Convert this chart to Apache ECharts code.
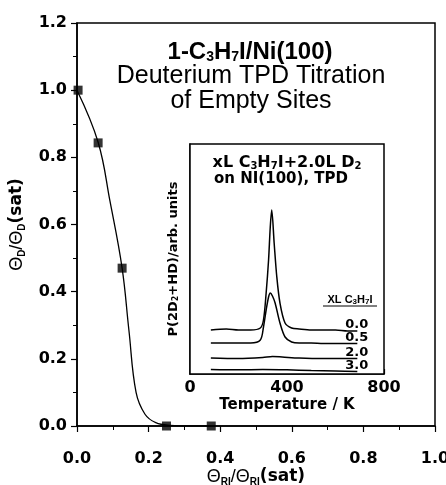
<!DOCTYPE html>
<html>
<head>
<meta charset="utf-8">
<script src="https://cdn.jsdelivr.net/npm/echarts@6/dist/echarts.min.js"></script>
<style>
  html, body { margin: 0; padding: 0; background: #fff; }
  #chart { width: 446px; height: 485px; }
</style>
</head>
<body>
<div id="chart"></div>
<script>
// main panel: deuterium titration points
const coverageRI = [0.003, 0.059, 0.126, 0.25, 0.375]
const coverageD = [1.0, 0.843, 0.47, 0.0, 0.0]

// hand-drawn fit through the points
const fitX = [0, 0.059, 0.092, 0.126, 0.145, 0.165, 0.19, 0.22, 0.26, 0.32, 0.375]
const fitY = [1.0, 0.845, 0.67, 0.47, 0.285, 0.1, 0.035, 0.01, 0.002, 0, 0]

// inset: TPD traces, offset in arbitrary units
const doseLabels = ['0.0', '0.5', '2.0', '3.0']
const traceT = [
  [86, 150, 200, 250, 290, 303, 314, 324, 331, 337, 347, 358, 371, 392, 419, 450, 500, 550, 600, 650, 690],
  [86, 150, 200, 250, 290, 303, 314, 324, 331, 340, 351, 371, 392, 419, 450, 500, 550, 600, 650, 690],
  [86, 200, 300, 340, 380, 450, 550, 690],
  [86, 200, 300, 400, 500, 600, 690]
]
const traceP = [
  [4.4, 4.5, 4.4, 4.4, 4.6, 5.4, 8.1, 11.4, 14.7, 16.4, 13.1, 9.7, 7.1, 5.1, 4.6, 4.5, 4.4, 4.4, 4.4, 4.3, 4.3],
  [3.1, 3.1, 3.1, 3.1, 3.4, 4.7, 6.4, 7.7, 8.1, 7.8, 7.1, 5.1, 3.7, 3.2, 3.1, 3.1, 3.05, 3.05, 3.05, 3.05],
  [1.6, 1.55, 1.65, 1.75, 1.7, 1.6, 1.55, 1.55],
  [0.45, 0.42, 0.45, 0.42, 0.35, 0.3, 0.25]
]

const NUM = 'DejaVu Sans'
const SANS = 'Liberation Sans'

const chart = echarts.init(document.getElementById('chart'), null, { renderer: 'canvas' })

const zip = (xs, ys) => xs.map((x, i) => [x, ys[i]])

const insetSeries = doseLabels.map((name, i) => ({
  name: name,
  type: 'line',
  xAxisIndex: 1,
  yAxisIndex: 1,
  data: zip(traceT[i], traceP[i]),
  symbol: 'none',
  smooth: 0.3,
  lineStyle: { color: '#000', width: 1.5 },
  endLabel: {
    show: true,
    formatter: '{a}',
    offset: [-20, -6],
    color: '#000',
    fontFamily: NUM,
    fontWeight: 'bold',
    fontSize: 13
  },
  z: 5
}))

// rich styles for the Θ axis names
const thetaRich = {
  t: { fontFamily: SANS, fontSize: 18, lineHeight: 20, color: '#000' },
  s: { fontFamily: SANS, fontSize: 10, fontWeight: 'bold', lineHeight: 12, verticalAlign: 'bottom', color: '#000' },
  b: { fontFamily: NUM, fontSize: 17, fontWeight: 'bold', lineHeight: 20, color: '#000' }
}

const option = {
  animation: false,
  backgroundColor: '#fff',
  grid: [
    { left: 77, right: 11, top: 23, bottom: 59, outerBoundsMode: 'none', show: true, borderColor: '#000', borderWidth: 1.5 },
    { left: 190, right: 62, top: 144, bottom: 111, outerBoundsMode: 'none', show: true, borderColor: '#000', borderWidth: 1.5, backgroundColor: '#fff', z: 3 }
  ],
  xAxis: [
    {
      gridIndex: 0,
      type: 'value',
      min: 0,
      max: 1,
      interval: 0.2,
      axisLine: { lineStyle: { color: '#000', width: 1.5 } },
      axisTick: { length: 6, lineStyle: { color: '#000', width: 1.2 } },
      minorTick: { show: true, splitNumber: 2, length: 4, lineStyle: { color: '#000', width: 1 } },
      splitLine: { show: false },
      axisLabel: {
        margin: 25, color: '#000', fontFamily: NUM, fontWeight: 'bold', fontSize: 16,
        formatter: v => v.toFixed(1)
      },
      name: '{t|Θ}{s|RI}{t|/Θ}{s|RI}{b|(sat)}',
      nameLocation: 'middle',
      nameGap: 41,
      nameMoveOverlap: false,
      nameTextStyle: { color: '#000', rich: thetaRich }
    },
    {
      gridIndex: 1,
      type: 'value',
      min: 0,
      max: 800,
      interval: 400,
      axisLine: { lineStyle: { color: '#000', width: 1.5 } },
      axisTick: { inside: true, length: 5, lineStyle: { color: '#000', width: 1.2 } },
      minorTick: { show: true, splitNumber: 4, length: 3, lineStyle: { color: '#000', width: 1 } },
      splitLine: { show: false },
      axisLabel: { margin: 6, color: '#000', fontFamily: NUM, fontWeight: 'bold', fontSize: 16 },
      name: 'Temperature / K',
      nameLocation: 'middle',
      nameGap: 24,
      nameMoveOverlap: false,
      nameTextStyle: { color: '#000', fontFamily: NUM, fontWeight: 'bold', fontSize: 15 }
    }
  ],
  yAxis: [
    {
      gridIndex: 0,
      type: 'value',
      min: 0,
      max: 1.2,
      interval: 0.2,
      axisLine: { lineStyle: { color: '#000', width: 1.5 } },
      axisTick: { length: 6, lineStyle: { color: '#000', width: 1.2 } },
      minorTick: { show: true, splitNumber: 2, length: 4, lineStyle: { color: '#000', width: 1 } },
      splitLine: { show: false },
      axisLabel: {
        margin: 10, color: '#000', fontFamily: NUM, fontWeight: 'bold', fontSize: 16,
        formatter: v => v.toFixed(1)
      },
      name: '{t|Θ}{s|D}{t|/Θ}{s|D}{b|(sat)}',
      nameLocation: 'middle',
      nameGap: 50,
      nameMoveOverlap: false,
      nameTextStyle: { color: '#000', rich: thetaRich }
    },
    {
      gridIndex: 1,
      type: 'value',
      min: 0,
      max: 23,
      axisLine: { show: true, lineStyle: { color: '#000', width: 1.5 } },
      axisTick: { show: false },
      axisLabel: { show: false },
      splitLine: { show: false },
      name: 'P(2D{s|2}+HD)/arb. units',
      nameLocation: 'middle',
      nameGap: 10,
      nameMoveOverlap: false,
      nameTextStyle: {
        color: '#000', fontFamily: NUM, fontWeight: 'bold', fontSize: 13,
        rich: {
          s: { fontFamily: NUM, fontSize: 8, fontWeight: 'bold', lineHeight: 9, verticalAlign: 'bottom', color: '#000' }
        }
      }
    }
  ],
  series: [
    {
      name: 'fit',
      type: 'line',
      xAxisIndex: 0,
      yAxisIndex: 0,
      data: zip(fitX, fitY),
      symbol: 'none',
      smooth: 0.4,
      lineStyle: { color: '#000', width: 1.3 },
      z: 2
    },
    {
      name: 'titration',
      type: 'scatter',
      xAxisIndex: 0,
      yAxisIndex: 0,
      data: zip(coverageRI, coverageD),
      symbol: 'rect',
      symbolSize: 9,
      itemStyle: { color: '#000' },
      z: 4
    },
    ...insetSeries
  ],
  graphic: [
    {
      type: 'text', x: 250, y: 52, z: 10,
      style: {
        text: '{b|1-C}{s|3}{b|H}{s|7}{b|I/Ni(100)}',
        align: 'center', verticalAlign: 'middle', fill: '#000',
        rich: {
          b: { fontFamily: SANS, fontWeight: 'bold', fontSize: 24, lineHeight: 25 },
          s: { fontFamily: SANS, fontWeight: 'bold', fontSize: 14, lineHeight: 15, verticalAlign: 'bottom' }
        }
      }
    },
    {
      type: 'text', x: 251, y: 76, z: 10,
      style: {
        text: 'Deuterium TPD Titration', align: 'center', verticalAlign: 'middle',
        font: '25px "Liberation Sans"', fill: '#000'
      }
    },
    {
      type: 'text', x: 251, y: 101, z: 10,
      style: {
        text: 'of Empty Sites', align: 'center', verticalAlign: 'middle',
        font: '25px "Liberation Sans"', fill: '#000'
      }
    },
    {
      type: 'text', x: 287, y: 163, z: 10,
      style: {
        text: '{b|xL C}{s|3}{b|H}{s|7}{b|I+2.0L D}{s|2}',
        align: 'center', verticalAlign: 'middle', fill: '#000',
        rich: {
          b: { fontFamily: NUM, fontWeight: 'bold', fontSize: 16, lineHeight: 17 },
          s: { fontFamily: NUM, fontWeight: 'bold', fontSize: 10, lineHeight: 11, verticalAlign: 'bottom' }
        }
      }
    },
    {
      type: 'text', x: 281, y: 179, z: 10,
      style: {
        text: 'on NI(100), TPD', align: 'center', verticalAlign: 'middle',
        font: 'bold 15px "DejaVu Sans"', fill: '#000'
      }
    },
    {
      type: 'text', x: 350, y: 300, z: 10,
      style: {
        text: '{b|XL C}{s|3}{b|H}{s|7}{b|I}',
        align: 'center', verticalAlign: 'middle', fill: '#000',
        rich: {
          b: { fontFamily: SANS, fontWeight: 'bold', fontSize: 11, lineHeight: 12 },
          s: { fontFamily: SANS, fontWeight: 'bold', fontSize: 8, lineHeight: 9, verticalAlign: 'bottom' }
        }
      }
    },
    {
      type: 'line', z: 10,
      shape: { x1: 323, y1: 306, x2: 377, y2: 306 },
      style: { stroke: '#000', lineWidth: 1 }
    }
  ]
}

chart.setOption(option)
</script>
</body>
</html>
